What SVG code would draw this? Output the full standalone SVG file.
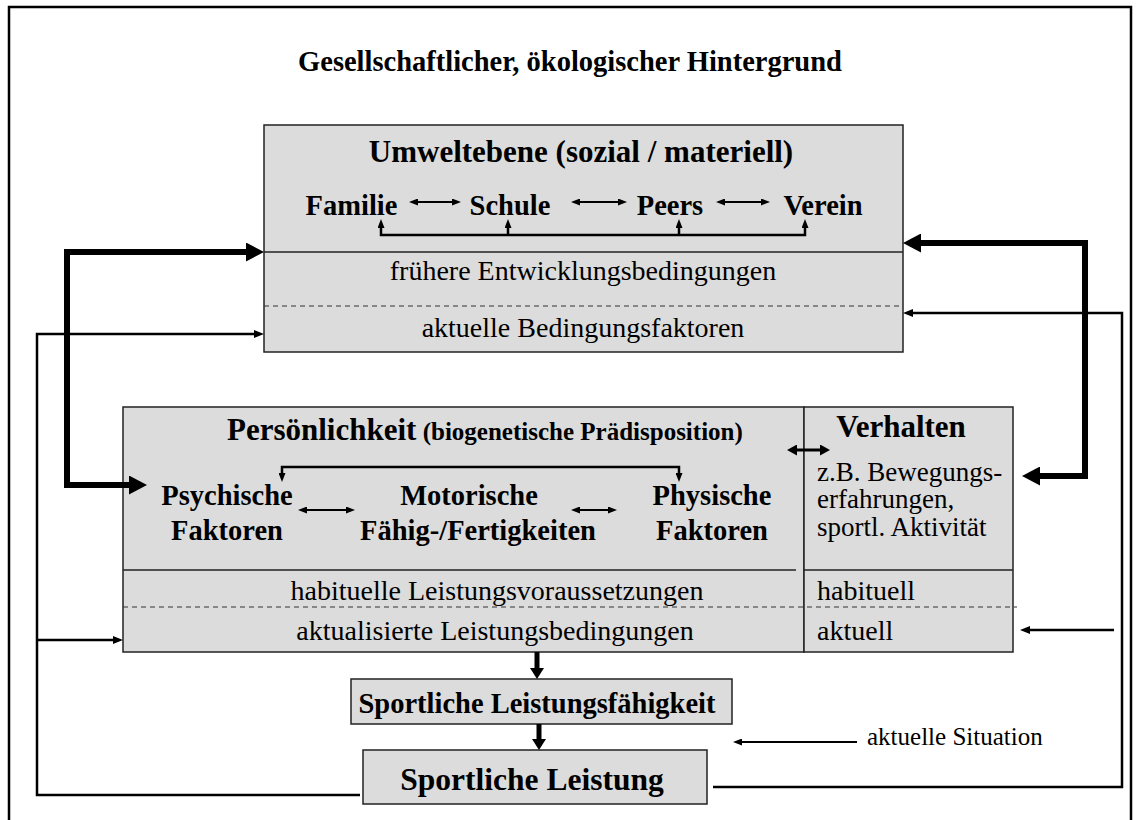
<svg xmlns="http://www.w3.org/2000/svg" width="1139" height="820" viewBox="0 0 1139 820">
  <defs>
    <marker id="ah-small" markerUnits="userSpaceOnUse" markerWidth="9" markerHeight="7" refX="3" refY="3.5" orient="auto-start-reverse">
      <path d="M0,0 L9,3.5 L0,7 z" fill="#000"/>
    </marker>
    <marker id="ah-thin" markerUnits="userSpaceOnUse" markerWidth="10" markerHeight="8" refX="4" refY="4" orient="auto-start-reverse">
      <path d="M0,0 L10,4 L0,8 z" fill="#000"/>
    </marker>
    <marker id="ah-mid" markerUnits="userSpaceOnUse" markerWidth="10" markerHeight="11" refX="3" refY="5.5" orient="auto-start-reverse">
      <path d="M0,0 L10,5.5 L0,11 z" fill="#000"/>
    </marker>
    <marker id="ah-down" markerUnits="userSpaceOnUse" markerWidth="11" markerHeight="14" refX="3" refY="7" orient="auto-start-reverse">
      <path d="M0,0 L11,7 L0,14 z" fill="#000"/>
    </marker>
    <marker id="ah-thick" markerUnits="userSpaceOnUse" markerWidth="18" markerHeight="19" refX="6" refY="9.5" orient="auto-start-reverse">
      <path d="M0,0 L18,9.5 L0,19 z" fill="#000"/>
    </marker>
  </defs>
  <style>
    .box{fill:#dcdcdc;stroke:#222;stroke-width:1.5}
    .t{font-family:"Liberation Serif","Times New Roman",serif;fill:#000}
    .b{font-weight:bold}
    .m{text-anchor:middle}
    .rule{stroke:#222;stroke-width:1.5}
    .dash{stroke:#333;stroke-width:1.2;stroke-dasharray:5 4}
    .frame{fill:none;stroke:#000;stroke-width:2.5}
    .c-small{fill:none;stroke:#000;stroke-width:2}
    .c-thin{fill:none;stroke:#000;stroke-width:2.5}
    .c-thick{fill:none;stroke:#000;stroke-width:6}
    .c-down{fill:none;stroke:#000;stroke-width:5}
  </style>

  <!-- outer frame -->
  <path class="frame" d="M9,830 L9,7 L1131,7 L1131,830"/>

  <text class="t b m" x="570" y="71" font-size="28.5">Gesellschaftlicher, ökologischer Hintergrund</text>

  <!-- environment level -->
  <g id="umweltebene">
    <rect class="box" x="264" y="125" width="639" height="227"/>
    <line class="rule" x1="264" y1="252" x2="903" y2="252"/>
    <line class="dash" x1="264" y1="306" x2="903" y2="306"/>
    <text class="t b m" x="581" y="162" font-size="31">Umweltebene (sozial / materiell)</text>
    <text class="t b m" x="351.5" y="215" font-size="28.5">Familie</text>
    <text class="t b m" x="510" y="215" font-size="28.5">Schule</text>
    <text class="t b m" x="670" y="215" font-size="28.5">Peers</text>
    <text class="t b m" x="823" y="215" font-size="28.5">Verein</text>
    <path class="c-small" d="M415,202 L455,202" marker-start="url(#ah-small)" marker-end="url(#ah-small)"/>
    <path class="c-small" d="M577,202 L621,202" marker-start="url(#ah-small)" marker-end="url(#ah-small)"/>
    <path class="c-small" d="M722,202 L764,202" marker-start="url(#ah-small)" marker-end="url(#ah-small)"/>
    <path class="c-thin" d="M381,225 L381,235 L805,235 L805,225" marker-start="url(#ah-small)" marker-end="url(#ah-small)"/>
    <path class="c-thin" d="M508,235 L508,225" marker-end="url(#ah-small)"/>
    <path class="c-thin" d="M679,235 L679,225" marker-end="url(#ah-small)"/>
    <text class="t m" x="583" y="280" font-size="28">frühere Entwicklungsbedingungen</text>
    <text class="t m" x="583" y="337" font-size="28">aktuelle Bedingungsfaktoren</text>
  </g>

  <!-- personality -->
  <g id="persoenlichkeit">
    <rect class="box" x="123" y="407" width="681" height="245"/>
    <line class="rule" x1="123" y1="570" x2="796" y2="570"/>
    <text class="t b" x="227" y="440" font-size="31">Persönlichkeit<tspan font-size="25"> (biogenetische Prädisposition)</tspan></text>
    <path class="c-thin" d="M282,476 L282,467 L679,467 L679,476" marker-start="url(#ah-small)" marker-end="url(#ah-small)"/>
    <text class="t b m" x="227" y="505" font-size="28.5">Psychische</text>
    <text class="t b m" x="227" y="540" font-size="28.5">Faktoren</text>
    <text class="t b m" x="469" y="505" font-size="28.5">Motorische</text>
    <text class="t b m" x="478" y="540" font-size="28.5">Fähig-/Fertigkeiten</text>
    <text class="t b m" x="712" y="505" font-size="28.5">Physische</text>
    <text class="t b m" x="712" y="540" font-size="28.5">Faktoren</text>
    <path class="c-small" d="M304,510 L349,510" marker-start="url(#ah-small)" marker-end="url(#ah-small)"/>
    <path class="c-small" d="M577,510 L611,510" marker-start="url(#ah-small)" marker-end="url(#ah-small)"/>
    <text class="t m" x="497" y="600" font-size="28">habituelle Leistungsvoraussetzungen</text>
    <text class="t m" x="495" y="640" font-size="28">aktualisierte Leistungsbedingungen</text>
  </g>

  <!-- behaviour -->
  <g id="verhalten">
    <rect class="box" x="804" y="407" width="209" height="245"/>
    <line class="rule" x1="804" y1="570" x2="1013" y2="570"/>
    <text class="t b m" x="901" y="437" font-size="31">Verhalten</text>
    <text class="t" x="817" y="481" font-size="27">z.B. Bewegungs-</text>
    <text class="t" x="817" y="508" font-size="27">erfahrungen,</text>
    <text class="t" x="817" y="536" font-size="27">sportl. Aktivität</text>
    <text class="t" x="817" y="600" font-size="28">habituell</text>
    <text class="t" x="817" y="640" font-size="28">aktuell</text>
  </g>

  <!-- dashed row rule shared by both lower blocks -->
  <line class="dash" x1="123" y1="607" x2="1017" y2="607"/>

  <g id="leistungsfaehigkeit">
    <rect class="box" x="351" y="679" width="381" height="45"/>
    <text class="t b m" x="537" y="713" font-size="28.5">Sportliche Leistungsfähigkeit</text>
  </g>

  <g id="leistung">
    <rect class="box" x="363" y="750" width="344" height="54"/>
    <text class="t b m" x="532" y="790" font-size="31.5">Sportliche Leistung</text>
  </g>

  <text class="t" x="867" y="745" font-size="25">aktuelle Situation</text>

  <g id="connectors">
    <path class="c-thick" d="M135,485 L67,485 L67,252 L252,252" marker-start="url(#ah-thick)" marker-end="url(#ah-thick)"/>
    <path class="c-thick" d="M1034,476 L1085,476 L1085,243 L915,243" marker-start="url(#ah-thick)" marker-end="url(#ah-thick)"/>
    <path class="c-thin" d="M360,795 L37,795 L37,334 L258,334" marker-end="url(#ah-thin)"/>
    <path class="c-thin" d="M37,640 L117,640" marker-end="url(#ah-thin)"/>
    <path class="c-thin" d="M713,787 L1122,787 L1122,313 L909,313" marker-end="url(#ah-thin)"/>
    <path class="c-thin" d="M1114,630 L1026,630" marker-end="url(#ah-thin)"/>
    <path class="c-small" d="M857,742 L739,742" marker-end="url(#ah-small)"/>
    <path class="c-mid" fill="none" stroke="#000" stroke-width="3" d="M794,450 L823,450" marker-start="url(#ah-mid)" marker-end="url(#ah-mid)"/>
    <path class="c-down" d="M537,652 L537,671" marker-end="url(#ah-down)"/>
    <path class="c-down" d="M539,724 L539,742" marker-end="url(#ah-down)"/>
  </g>
</svg>
